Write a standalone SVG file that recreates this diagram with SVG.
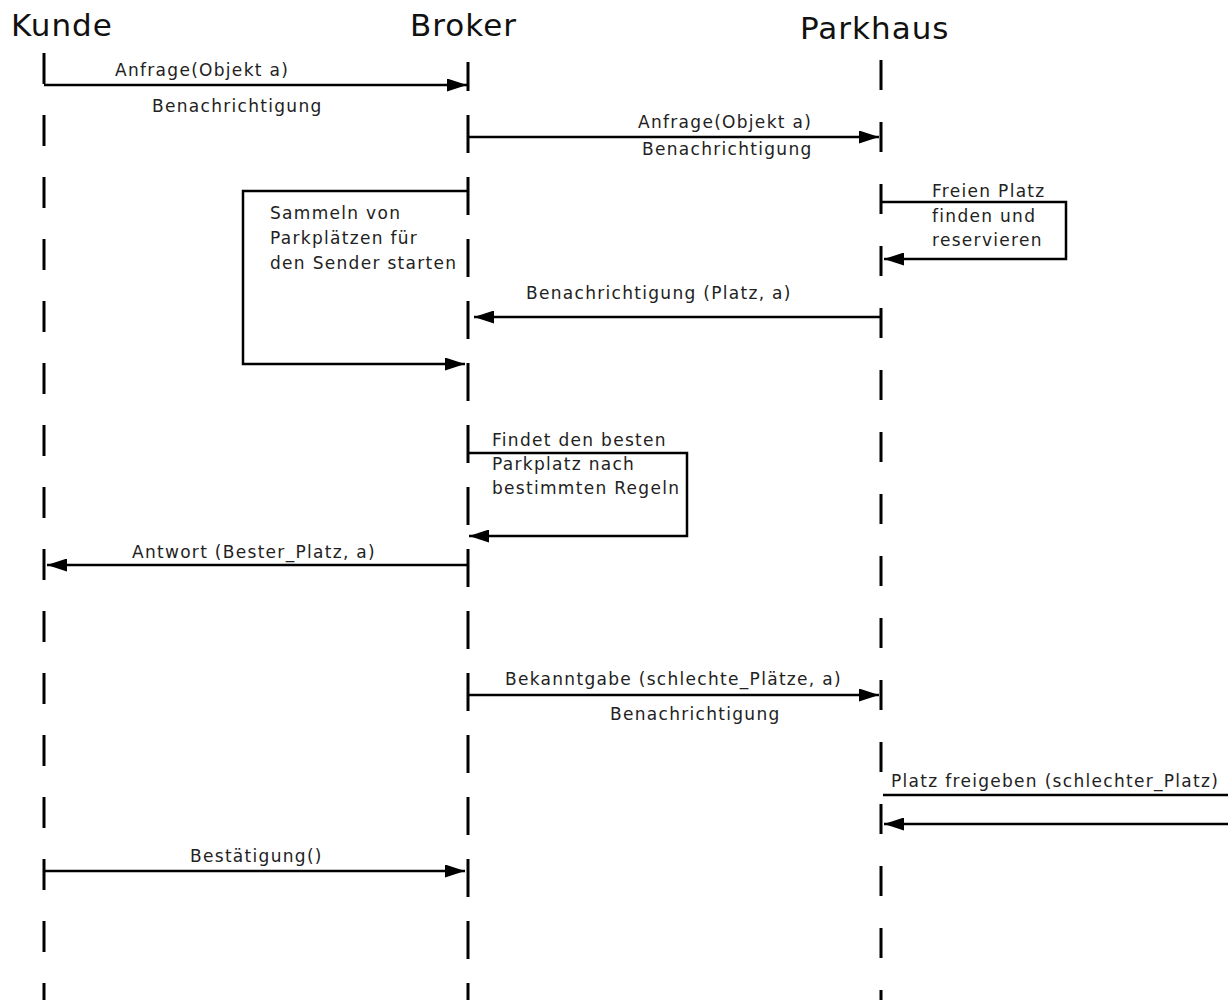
<svg xmlns="http://www.w3.org/2000/svg" width="1228" height="1000" viewBox="0 0 1228 1000">
  <style>
    .title { font-family: "DejaVu Sans", "Noto Sans", sans-serif; font-size: 31px; letter-spacing: 1px; fill: #111; }
    .lbl { font-family: "DejaVu Sans", "Noto Sans", sans-serif; font-size: 17px; letter-spacing: 1.3px; fill: #222; }
    .life { stroke: #000; stroke-width: 3; fill: none; }
    .msg { stroke: #000; stroke-width: 2.5; fill: none; }
  </style>
  <defs>
    <marker id="arrow" viewBox="0 0 20 13" refX="20" refY="6.5" markerWidth="20" markerHeight="13" markerUnits="userSpaceOnUse" orient="auto">
      <path d="M0,0 L20,6.5 L0,13 Z" fill="#000"/>
    </marker>
  </defs>
  <rect width="1228" height="1000" fill="#fff"/>

  <!-- lifelines -->
  <g id="kunde">
    <text class="title" x="11" y="36">Kunde</text>
    <line class="life" x1="44" y1="53" x2="44" y2="1000" stroke-dasharray="31 31"/>
  </g>
  <g id="broker">
    <text class="title" x="410" y="36">Broker</text>
    <line class="life" x1="468" y1="62" x2="468" y2="1000" stroke-dasharray="38 24" stroke-dashoffset="9"/>
  </g>
  <g id="parkhaus">
    <text class="title" x="800" y="39">Parkhaus</text>
    <line class="life" x1="881" y1="60" x2="881" y2="1000" stroke-dasharray="30 32"/>
  </g>

  <!-- messages -->
  <g id="connectors">
    <path class="msg" d="M44,85 H467" marker-end="url(#arrow)"/>
    <text class="lbl" x="115" y="76">Anfrage(Objekt a)</text>
    <text class="lbl" x="152" y="112">Benachrichtigung</text>

    <path class="msg" d="M468,137 H879" marker-end="url(#arrow)"/>
    <text class="lbl" x="638" y="128">Anfrage(Objekt a)</text>
    <text class="lbl" x="642" y="155">Benachrichtigung</text>

    <path class="msg" d="M468,191 H243 V364 H465" marker-end="url(#arrow)"/>
    <text class="lbl" x="270" y="219">Sammeln von</text>
    <text class="lbl" x="270" y="244">Parkplätzen für</text>
    <text class="lbl" x="270" y="269">den Sender starten</text>

    <path class="msg" d="M881,202 H1066 V259 H884" marker-end="url(#arrow)"/>
    <text class="lbl" x="932" y="197">Freien Platz</text>
    <text class="lbl" x="932" y="222">finden und</text>
    <text class="lbl" x="932" y="246">reservieren</text>

    <path class="msg" d="M881,317 H474" marker-end="url(#arrow)"/>
    <text class="lbl" x="526" y="299">Benachrichtigung (Platz, a)</text>

    <path class="msg" d="M468,453 H687 V536 H469" marker-end="url(#arrow)"/>
    <text class="lbl" x="492" y="446">Findet den besten</text>
    <text class="lbl" x="492" y="470">Parkplatz nach</text>
    <text class="lbl" x="492" y="494">bestimmten Regeln</text>

    <path class="msg" d="M468,565 H47" marker-end="url(#arrow)"/>
    <text class="lbl" x="132" y="558">Antwort (Bester_Platz, a)</text>

    <path class="msg" d="M468,695 H879" marker-end="url(#arrow)"/>
    <text class="lbl" x="505" y="685">Bekanntgabe (schlechte_Plätze, a)</text>
    <text class="lbl" x="610" y="720">Benachrichtigung</text>

    <path class="msg" d="M883,795 H1228"/>
    <text class="lbl" x="891" y="787">Platz freigeben (schlechter_Platz)</text>

    <path class="msg" d="M1228,824 H884" marker-end="url(#arrow)"/>

    <path class="msg" d="M44,871 H465" marker-end="url(#arrow)"/>
    <text class="lbl" x="190" y="862">Bestätigung()</text>
  </g>
</svg>
